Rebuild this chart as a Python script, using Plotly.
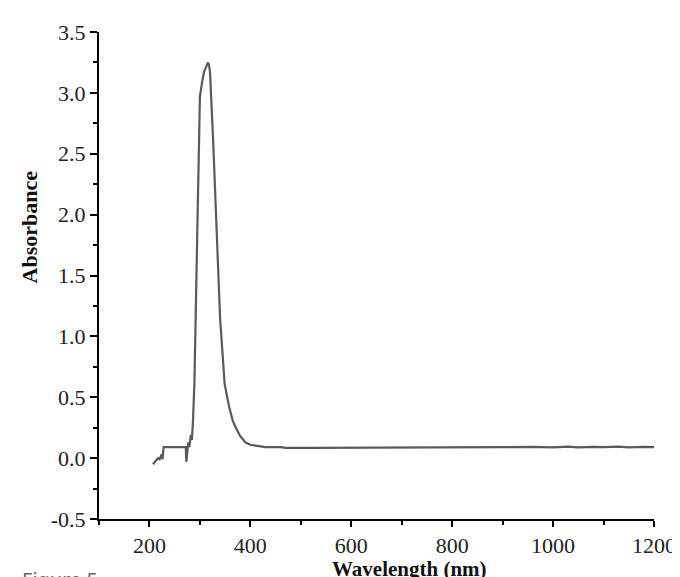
import plotly.graph_objects as go

# UV-Vis absorbance spectrum
wavelength = [207, 211, 214, 217, 220, 224, 226, 228, 250, 272, 273, 277, 279, 282, 284, 286,
              289, 292, 295, 298, 300, 304, 308, 313, 316, 318, 320, 326, 333, 340, 349,
              358, 365, 370, 380, 390, 400, 413, 430, 460, 470, 520, 600, 610, 700, 800,
              900, 960, 1000, 1030, 1050, 1080, 1100, 1130, 1150, 1180, 1200]
absorbance = [-0.05, -0.03, -0.02, 0.0, -0.01, 0.03, -0.01, 0.09, 0.09, 0.09, -0.03, 0.13, 0.09, 0.19, 0.15, 0.28,
              0.6, 1.2, 2.0, 2.7, 2.97, 3.08, 3.17, 3.22, 3.25, 3.23, 3.17, 2.63, 1.82, 1.15, 0.61,
              0.42, 0.31, 0.26, 0.18, 0.13, 0.11, 0.10, 0.09, 0.09, 0.085, 0.085, 0.085, 0.09, 0.09, 0.09,
              0.09, 0.092, 0.088, 0.094, 0.089, 0.093, 0.09, 0.094, 0.089, 0.092, 0.09]

x_ticks = [200, 400, 600, 800, 1000, 1200]
y_ticks = [-0.5, 0.0, 0.5, 1.0, 1.5, 2.0, 2.5, 3.0, 3.5]
y_labels = ["-0.5", "0.0", "0.5", "1.0", "1.5", "2.0", "2.5", "3.0", "3.5"]

serif = "Liberation Serif, Times New Roman, serif"

fig = go.Figure()
fig.add_trace(go.Scatter(x=wavelength, y=absorbance, mode="lines",
                         line=dict(color="#575b60", width=2.2), showlegend=False))

fig.update_xaxes(range=[100, 1200], tickvals=x_ticks, ticks="outside", ticklen=6, tickwidth=2,
                 tickcolor="black", showline=True, linecolor="black", linewidth=2,
                 showgrid=False, zeroline=False,
                 tickfont=dict(family=serif, size=22, color="#222"),
                 minor=dict(dtick=100, tick0=100, ticks="outside", ticklen=4, tickwidth=2,
                            tickcolor="black", showgrid=False))
fig.update_yaxes(range=[-0.5, 3.5], tickvals=y_ticks, ticktext=y_labels, ticks="outside",
                 ticklen=7, tickwidth=2, tickcolor="black", showline=True, linecolor="black",
                 linewidth=2, showgrid=False, zeroline=False,
                 tickfont=dict(family=serif, size=22, color="#222"),
                 minor=dict(dtick=0.25, tick0=0, ticks="outside", ticklen=4, tickwidth=2,
                            tickcolor="black", showgrid=False))

fig.add_annotation(text="<b>Wavelength (nm)</b>", xref="paper", yref="paper", x=0.56, y=-0.103,
                   xanchor="center", yanchor="middle", showarrow=False,
                   font=dict(family=serif, size=21, color="#111"))
fig.add_annotation(text="<b>Absorbance</b>", xref="paper", yref="paper", x=-0.125, y=0.6,
                   xanchor="center", yanchor="middle", textangle=-90, showarrow=False,
                   font=dict(family=serif, size=22, color="#111"))
# caption cut off by the bottom edge, as in the source
fig.add_annotation(text="Figure 5", xref="paper", yref="paper", x=-0.143, y=-0.092,
                   xanchor="left", yanchor="top", showarrow=False,
                   font=dict(family="Noto Sans, sans-serif", size=20, color="#666"))

fig.update_layout(width=680, height=577, plot_bgcolor="white", paper_bgcolor="white",
                  margin=dict(l=91, r=28, t=20, b=66))

fig.write_html("out.html")
